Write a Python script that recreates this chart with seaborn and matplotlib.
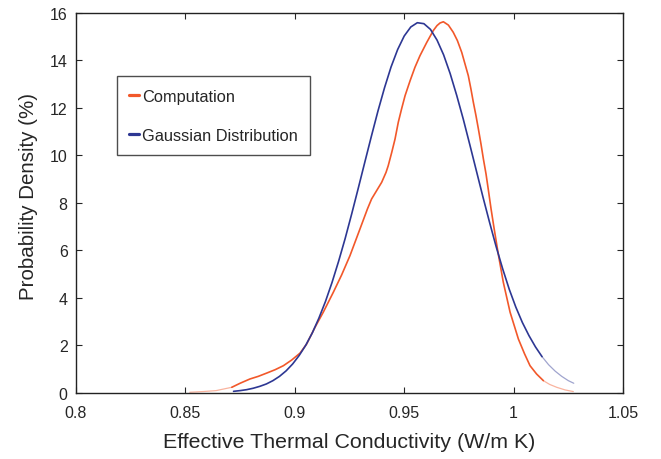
import matplotlib
matplotlib.use("Agg")
import matplotlib.pyplot as plt
from matplotlib.lines import Line2D
import seaborn as sns
import pandas as pd

# ---- data ----
comp_x = [0.852, 0.858, 0.864, 0.8712, 0.8750, 0.8795, 0.8833, 0.8872, 0.8910, 0.8948,
          0.8986, 0.9024, 0.9054, 0.9092, 0.9130, 0.9176, 0.9214, 0.9252, 0.9298, 0.9332,
          0.9351, 0.9374, 0.9397, 0.9417, 0.9427, 0.9443, 0.9458, 0.9473, 0.9488, 0.9504,
          0.9527, 0.9549, 0.9572, 0.9603, 0.9633, 0.9650, 0.9664, 0.9679, 0.9702, 0.9724,
          0.9743, 0.9763, 0.9778, 0.9793, 0.9805, 0.9816, 0.9828, 0.9839, 0.9851, 0.9862,
          0.9874, 0.9884, 0.9897, 0.9910, 0.9930, 0.9953, 0.9984, 1.0022, 1.0050, 1.0075,
          1.0105, 1.0136, 1.0165, 1.0197, 1.0235, 1.0273]
comp_y = [0.03, 0.06, 0.10, 0.24, 0.41, 0.59, 0.70, 0.84, 0.98, 1.15,
          1.39, 1.68, 2.06, 2.76, 3.40, 4.24, 4.97, 5.78, 6.91, 7.75,
          8.17, 8.52, 8.87, 9.29, 9.57, 10.13, 10.69, 11.40, 11.96, 12.52,
          13.15, 13.71, 14.20, 14.76, 15.26, 15.47, 15.58, 15.63, 15.49, 15.19,
          14.84, 14.34, 13.85, 13.36, 12.80, 12.24, 11.68, 11.12, 10.48, 9.85,
          9.22, 8.59, 7.75, 6.98, 5.85, 4.66, 3.40, 2.27, 1.65, 1.15,
          0.80, 0.52, 0.36, 0.24, 0.13, 0.06]

gauss_x = [0.872, 0.875, 0.878, 0.881, 0.884, 0.887, 0.890, 0.893, 0.896, 0.899,
           0.902, 0.905, 0.908, 0.911, 0.914, 0.917, 0.920, 0.923, 0.926, 0.929,
           0.932, 0.935, 0.938, 0.941, 0.944, 0.947, 0.950, 0.953, 0.956, 0.959,
           0.962, 0.965, 0.968, 0.971, 0.974, 0.977, 0.980, 0.983, 0.986, 0.989,
           0.992, 0.995, 0.998, 1.001, 1.004, 1.007, 1.010, 1.013, 1.016, 1.019,
           1.022, 1.025, 1.0275]
gauss_y = [0.07, 0.10, 0.14, 0.20, 0.28, 0.38, 0.52, 0.70, 0.93, 1.22,
           1.58, 2.01, 2.53, 3.15, 3.85, 4.65, 5.54, 6.50, 7.54, 8.62,
           9.72, 10.81, 11.87, 12.85, 13.73, 14.46, 15.03, 15.41, 15.59, 15.55,
           15.31, 14.86, 14.24, 13.45, 12.53, 11.53, 10.45, 9.35, 8.25, 7.19,
           6.17, 5.23, 4.37, 3.62, 2.97, 2.42, 1.94, 1.53, 1.19, 0.92,
           0.70, 0.52, 0.41]

series_names = ["Computation", "Gaussian Distribution"]
x_ticks = [0.8, 0.85, 0.9, 0.95, 1.0, 1.05]
x_tick_labels = ["0.8", "0.85", "0.9", "0.95", "1", "1.05"]
y_ticks = [0, 2, 4, 6, 8, 10, 12, 14, 16]

comp = pd.DataFrame({"x": comp_x, "y": comp_y, "series": series_names[0]})
gauss = pd.DataFrame({"x": gauss_x, "y": gauss_y, "series": series_names[1]})

sns.set_theme(style="ticks")
plt.rcParams["font.family"] = ["Liberation Sans", "DejaVu Sans"]
text_color = "#262626"
plt.rcParams["text.color"] = text_color
plt.rcParams["axes.labelcolor"] = text_color

palette = {"Computation": "#F2582A", "Gaussian Distribution": "#2D3793"}

fig = plt.figure(figsize=(6.61, 4.60), dpi=100)
ax = fig.add_axes([0.115, 0.1435, 0.8275, 0.8261])

def draw(d, name, lo, hi):
    main = d[(d["x"] >= lo) & (d["x"] <= hi)]
    left = d[d["x"] <= lo]
    right = d[d["x"] >= hi]
    sns.lineplot(data=main, x="x", y="y", color=palette[name], linewidth=1.2,
                 sort=False, estimator=None, ax=ax)
    for tail in (left, right):
        if len(tail) > 1:
            sns.lineplot(data=tail, x="x", y="y", color=palette[name], linewidth=0.9,
                         alpha=0.45, sort=False, estimator=None, ax=ax)

draw(comp, series_names[0], 0.8712, 1.0136)
draw(gauss, series_names[1], 0.0, 1.013)

ax.set_xlim(0.8, 1.05)
ax.set_ylim(0, 16)
ax.set_xticks(x_ticks)
ax.set_xticklabels(x_tick_labels)
ax.set_yticks(y_ticks)
ax.tick_params(direction="in", length=4, width=0.8, top=True, right=True,
               labelsize=11.5, colors=text_color)
ax.tick_params(axis="x", pad=9)
ax.tick_params(axis="y", pad=6)
for s in ax.spines.values():
    s.set_visible(True)
    s.set_linewidth(1.0)
    s.set_color("#222222")

ax.set_xlabel("Effective Thermal Conductivity (W/m K)", fontsize=15.4, labelpad=8)
ax.set_ylabel("Probability Density (%)", fontsize=14.8)
ax.yaxis.set_label_coords(-0.070, 0.52)

handles = [Line2D([0], [0], color=palette[n], lw=2.3) for n in series_names]
leg = ax.legend(handles, series_names, loc="upper left",
                bbox_to_anchor=(0.0744, 0.8334), borderaxespad=0,
                fontsize=11.8, handlelength=0.6, handletextpad=0.2,
                labelspacing=1.5, borderpad=0.75, frameon=True,
                fancybox=False, edgecolor="#222222")
leg.get_frame().set_linewidth(1.0)

fig.savefig("out.png", dpi=100)
